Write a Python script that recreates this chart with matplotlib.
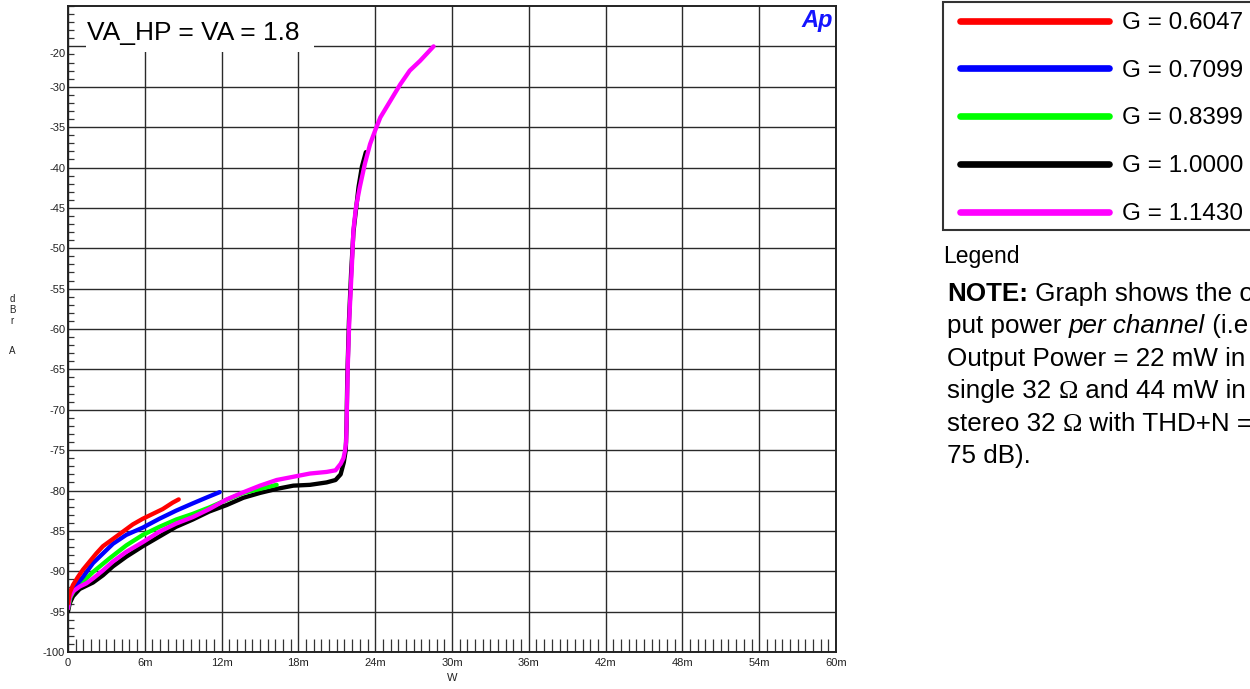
import matplotlib
matplotlib.use('Agg')
import matplotlib.pyplot as plt
from matplotlib.lines import Line2D
from matplotlib.patches import Rectangle
from matplotlib.ticker import MultipleLocator, FixedLocator

plt.rcParams['font.family'] = ['Liberation Sans', 'DejaVu Sans']

# ---------------- data (power in mW, level in dBr A) ----------------
red_mw = [0, 0.13, 0.39, 0.78, 1.17, 1.69, 2.21, 2.73, 3.51, 4.29, 5.06, 5.84, 6.62, 7.40, 8.18, 8.65]
red_db = [-94.0, -92.7, -91.7, -90.7, -89.8, -88.8, -87.8, -86.9, -86.0, -85.1, -84.2, -83.5, -82.9, -82.3, -81.5, -81.1]

blue_mw = [0, 0.15, 0.35, 0.65, 1.17, 1.95, 2.73, 3.51, 4.55, 5.84, 7.14, 8.44, 9.74, 10.78, 11.85]
blue_db = [-94.3, -93.0, -92.3, -91.7, -90.7, -89.0, -87.8, -86.6, -85.5, -84.6, -83.5, -82.5, -81.6, -80.9, -80.2]

green_mw = [0, 0.2, 0.5, 0.91, 1.95, 3.25, 4.55, 5.84, 7.14, 8.44, 9.74, 11.04, 12.34, 13.7, 15.0, 16.3]
green_db = [-94.6, -93.2, -92.3, -91.7, -90.1, -88.4, -86.8, -85.5, -84.5, -83.6, -82.9, -82.1, -81.2, -80.3, -79.8, -79.3]

black_mw = [0, 0.13, 0.39, 0.91, 1.43, 1.95, 2.73, 3.51, 4.55, 5.84, 7.14, 8.44, 9.74, 11.04, 12.4,
            13.7, 15.0, 16.3, 17.6, 18.9, 20.2, 20.9, 21.3, 21.55, 21.7, 21.76, 21.82, 21.95, 22.12,
            22.3, 22.5, 22.7, 22.96, 23.27]
black_db = [-95.0, -94.0, -93.1, -92.2, -91.8, -91.4, -90.5, -89.4, -88.2, -86.9, -85.7, -84.5, -83.6, -82.6, -81.8,
            -80.9, -80.3, -79.8, -79.4, -79.3, -79.0, -78.7, -78.0, -76.5, -75.0, -72.0, -66.0, -59.0, -53.0,
            -48.0, -45.2, -42.4, -39.9, -38.1]

magenta_mw = [0, 0.13, 0.39, 0.91, 1.43, 1.95, 2.73, 3.51, 4.55, 5.84, 7.14, 8.44, 9.74, 11.04, 12.4,
              13.73, 15.0, 16.3, 17.6, 18.9, 20.2, 20.9, 21.3, 21.52, 21.65, 21.73, 21.78, 21.86, 21.99,
              22.18, 22.3, 22.5, 22.8, 23.2, 23.6, 24.0, 24.4, 25.2, 25.96, 26.7, 27.5, 28.56]
magenta_db = [-94.6, -93.3, -92.5, -91.9, -91.5, -90.9, -89.9, -88.8, -87.6, -86.4, -85.1, -84.1, -83.3, -82.3, -81.1,
              -80.2, -79.4, -78.7, -78.3, -77.9, -77.7, -77.5, -76.7, -76.0, -75.0, -74.0, -70.7, -64.5, -58.3,
              -52.1, -47.7, -44.9, -42.4, -39.5, -37.1, -35.4, -33.8, -31.7, -29.7, -28.0, -26.8, -25.0]

series_labels = ['G = 0.6047', 'G = 0.7099', 'G = 0.8399', 'G = 1.0000', 'G = 1.1430']
series_colors = ['#ff0000', '#0000ff', '#00ff00', '#000000', '#ff00ff']

y_major = [-100, -95, -90, -85, -80, -75, -70, -65, -60, -55, -50, -45, -40, -35, -30, -25]
y_labels = ['-100', '-95', '-90', '-85', '-80', '-75', '-70', '-65', '-60', '-55', '-50', '-45', '-40', '-35', '-30', '']
x_major_mw = [0, 6, 12, 18, 24, 30, 36, 42, 48, 54, 60]
x_labels = ['0', '6m', '12m', '18m', '24m', '30m', '36m', '42m', '48m', '54m', '60m']

title_text = 'VA_HP = VA = 1.8'

# ---------------- figure ----------------
W, H = 1250, 689
fig = plt.figure(figsize=(W / 100, H / 100), dpi=100)
L, R, B, T = 68, 836, 652, 6
ax = fig.add_axes([L / W, 1 - B / H, (R - L) / W, (B - T) / H])

def to_w(v):
    return [x / 1000.0 for x in v]

data = [(red_mw, red_db), (blue_mw, blue_db), (green_mw, green_db), (black_mw, black_db), (magenta_mw, magenta_db)]
order = [3, 2, 1, 4, 0]
for i in order:
    xs, ys = data[i]
    ax.plot(to_w(xs), ys, color=series_colors[i], lw=3.1, solid_capstyle='round',
            solid_joinstyle='round', zorder=3 + order.index(i) * 0.1)

ax.set_xlim(0, 0.060)
ax.set_ylim(-100, -20)

ax.xaxis.set_major_locator(FixedLocator(to_w(x_major_mw)))
ax.set_xticklabels(x_labels)
ax.xaxis.set_minor_locator(MultipleLocator(0.0006))
ax.yaxis.set_major_locator(FixedLocator(y_major))
ax.set_yticklabels(y_labels)
ax.yaxis.set_minor_locator(MultipleLocator(1))

ax.tick_params(axis='both', which='major', length=0, labelsize=8, labelcolor='#222222')
ax.tick_params(axis='x', which='major', pad=4.5)
ax.tick_params(axis='y', which='major', pad=2)
ax.tick_params(axis='x', which='minor', direction='in', length=9.5, width=0.9, color='#333333')
ax.tick_params(axis='y', which='minor', direction='in', length=4.3, width=0.9, color='#333333')

ax.grid(True, which='major', color='#2a2a2a', lw=1.0)
ax.set_axisbelow(True)
for s in ax.spines.values():
    s.set_linewidth(1.4)
    s.set_color('#222222')
    s.set_zorder(6)

# odd "-20" label from the original
ax.text(-2.0 / (R - L), -25.9, '-20', transform=ax.get_yaxis_transform(), ha='right', va='center',
        fontsize=8, color='#222222')

# title box
ax.add_patch(Rectangle(((86 - L) / (R - L), (B - 52) / (B - T)), (314 - 86) / (R - L), 1.0,
                       transform=ax.transAxes, facecolor='white', edgecolor='none', zorder=4, clip_on=True))
ax.text((87 - L) / (R - L), (B - 40) / (B - T), title_text, transform=ax.transAxes,
        fontsize=19, va='baseline', ha='left', color='black', zorder=5)

# Ap logo
ax.text((833 - L) / (R - L), (B - 27) / (B - T), 'Ap', transform=ax.transAxes, ha='right', va='baseline',
        fontsize=17, fontweight='bold', style='italic', color='#1414ff', zorder=5)

# axis labels
fig.text(452 / W, 1 - 678 / H, 'W', ha='center', va='center', fontsize=8, color='#222222')
for ch, yy in zip(['d', 'B', 'r', 'A'], [299, 310, 321, 351]):
    fig.text(12 / W, 1 - yy / H, ch, ha='center', va='center', fontsize=7, color='#222222')

# legend (manual, to match the original layout)
fig.patches.append(Rectangle((943 / W, 1 - 230 / H), (1300 - 943) / W, (230 - 2) / H,
                             transform=fig.transFigure, facecolor='white', edgecolor='#333333', lw=1.5))
leg_y = [20.7, 68.3, 116, 164, 211.7]
for i in range(5):
    fig.lines.append(Line2D([960 / W, 1109 / W], [1 - leg_y[i] / H] * 2, transform=fig.transFigure,
                            color=series_colors[i], lw=4.8, solid_capstyle='round'))
    fig.text(1121.5 / W, 1 - leg_y[i] / H, series_labels[i], ha='left', va='center_baseline',
             fontsize=17.5, color='black')

fig.text(943 / W, 1 - 263 / H, 'Legend', ha='left', va='baseline', fontsize=16.5, color='black')

# note text with mixed styles (cut off by the right edge, as in the original)
renderer = fig.canvas.get_renderer()
SERIF = {'family': ['Liberation Serif', 'DejaVu Serif']}
note_lines = [
    [('NOTE:', {'fontweight': 'bold'}), (' Graph shows the o', {})],
    [('put power ', {}), ('per channel', {'style': 'italic'}), (' (i.e', {})],
    [('Output Power = 22 mW in', {})],
    [('single 32 ', {}), ('\u03a9', SERIF), (' and 44 mW in', {})],
    [('stereo 32 ', {}), ('\u03a9', SERIF), (' with THD+N =', {})],
    [('75 dB).', {})],
]
base = 301.0
pitch = 32.4
for k, segs in enumerate(note_lines):
    xpx = 947.0
    ypx = base + k * pitch
    for txt, kw in segs:
        t = fig.text(xpx / W, 1 - ypx / H, txt, ha='left', va='baseline', fontsize=18.7, color='black', **kw)
        bb = t.get_window_extent(renderer=renderer)
        xpx = bb.x1

fig.savefig('out.png', dpi=100)
